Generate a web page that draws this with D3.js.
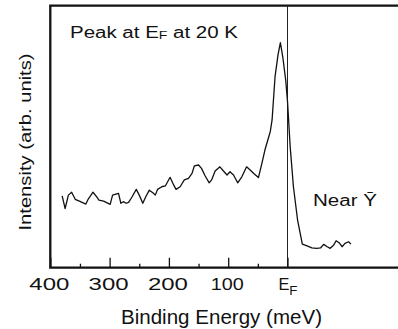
<!DOCTYPE html>
<html>
<head>
<meta charset="utf-8">
<script src="https://cdn.jsdelivr.net/npm/d3@7/dist/d3.min.js"></script>
<style>
  html, body { margin: 0; padding: 0; background: #fff; }
  svg { display: block; }
  text { font-family: "Liberation Sans", Arial, sans-serif; fill: #111; }
</style>
</head>
<body>
<svg id="chart" width="398" height="329"></svg>
<script>
// Photoemission spectrum near Y-bar at 20 K (binding energy in meV, 0 = E_F)
const energy = [380, 375, 369.5, 364, 358, 350, 340, 336, 328, 322, 318, 310, 299, 295, 285, 281, 277, 272, 268, 263,
  255, 250, 244, 239, 233, 226, 223, 219, 212, 206, 198, 192, 188, 181, 174, 167, 161, 157, 150, 145,
  139, 132, 128, 122, 114, 108, 102, 97, 91, 84, 77, 69, 63, 56, 49, 43, 38, 29, 26, 21,
  16, 12, 8, 3, 0, -4.5, -10, -17, -25, -33, -41, -49, -56, -61, -67, -72, -78, -82, -88, -92,
  -97, -103, -107];
const intensity = [27.4, 22.6, 27.7, 28.8, 26.1, 25.3, 24.3, 26.2, 28.8, 27.1, 25.8, 25.4, 24.2, 27.7, 28.4, 24.6, 25.2, 24.6, 24.9, 26.7,
  29.9, 27.7, 24.6, 27.1, 29.6, 28.4, 27.7, 29.9, 30.9, 31.2, 34.5, 31.6, 29.9, 30.9, 33.5, 34.1, 36.0, 38.9, 39.2, 37.9,
  35.1, 32.4, 33.5, 36.9, 38.5, 36.9, 35.4, 36.6, 35.4, 32.4, 34.7, 38.5, 37.3, 35.8, 34.4, 40.0, 45.0, 52.0, 56.4, 72.9,
  81.2, 85.9, 80.5, 71.6, 63.5, 46.2, 30.9, 18.2, 9.0, 8.3, 7.6, 7.4, 7.6, 8.9, 8.0, 7.4, 8.7, 10.3, 9.3, 8.0,
  9.3, 9.9, 9.0];
const majorTicks = [400, 300, 200, 100, 0];
const minorTicks = [350, 250, 150, 50];
const tickLabels = ["400", "300", "200", "100", "E"];

const svg = d3.select("#chart");
const plotLeft = 50.3, plotTop = 5.7, plotBottom = 267.7;

const x = d3.scaleLinear().domain([400, -200]).range([plotLeft, plotLeft + 600 * 0.593]);
const y = d3.scaleLinear().domain([0, 100]).range([plotBottom, plotTop]);

// Frame: left, top and bottom edges (right edge runs past the view)
svg.append("path")
  .attr("d", `M${x(-200)},${plotTop}H${plotLeft}V${plotBottom}H${x(-200)}`)
  .attr("fill", "none").attr("stroke", "#111").attr("stroke-width", 2.3);

// Fermi level marker
svg.append("line")
  .attr("x1", x(0)).attr("x2", x(0)).attr("y1", plotTop).attr("y2", plotBottom)
  .attr("stroke", "#222").attr("stroke-width", 1);

// Major ticks with labels (pointing inward)
const axis = d3.axisBottom(x).tickValues(majorTicks).tickSize(-10).tickPadding(11.4)
  .tickFormat((d, i) => tickLabels[i]);
const gx = svg.append("g").attr("transform", `translate(0,${plotBottom})`).call(axis);
gx.select(".domain").remove();
gx.selectAll(".tick line").attr("stroke", "#111").attr("stroke-width", 1.3);
gx.selectAll(".tick text")
  .attr("font-size", 16).attr("fill", "#111")
  .attr("font-family", "Liberation Sans, Arial, sans-serif")
  .attr("x", -1.5)
  .each(function (d) {
    const t = d3.select(this);
    if (d === 0) {
      t.attr("x", 0);
      t.append("tspan").attr("font-size", 13).attr("dy", 4.3).text("F");
      t.attr("textLength", 19).attr("lengthAdjust", "spacingAndGlyphs");
    } else {
      t.attr("textLength", d === 100 ? 33 : 40).attr("lengthAdjust", "spacingAndGlyphs");
    }
  });

// Minor ticks
const minor = d3.axisBottom(x).tickValues(minorTicks).tickSize(-4).tickFormat("");
const gm = svg.append("g").attr("transform", `translate(0,${plotBottom})`).call(minor);
gm.select(".domain").remove();
gm.selectAll(".tick line").attr("stroke", "#111").attr("stroke-width", 1.3);

// Spectrum
const line = d3.line().x((d, i) => x(energy[i])).y(d => y(d));
svg.append("path")
  .datum(intensity)
  .attr("d", line)
  .attr("fill", "none").attr("stroke", "#111").attr("stroke-width", 1.3)
  .attr("stroke-linejoin", "round");

// Axis titles
svg.append("text")
  .attr("x", 221.5).attr("y", 324).attr("text-anchor", "middle")
  .attr("font-size", 19.5)
  .attr("textLength", 201).attr("lengthAdjust", "spacingAndGlyphs")
  .text("Binding Energy (meV)");

svg.append("text")
  .attr("transform", "translate(31,142) rotate(-90)")
  .attr("text-anchor", "middle")
  .attr("font-size", 17)
  .attr("textLength", 177).attr("lengthAdjust", "spacingAndGlyphs")
  .text("Intensity (arb. units)");

// Annotations
const peak = svg.append("text")
  .attr("x", 70).attr("y", 37.5).attr("font-size", 16)
  .attr("textLength", 168).attr("lengthAdjust", "spacingAndGlyphs");
peak.append("tspan").text("Peak at E");
peak.append("tspan").attr("font-size", 11).attr("dy", 1.5).text("F");
peak.append("tspan").attr("dy", -1.5).text(" at 20 K");

svg.append("text")
  .attr("x", 313).attr("y", 205.5).attr("font-size", 16)
  .attr("textLength", 64).attr("lengthAdjust", "spacingAndGlyphs")
  .text("Near  \u0232");
</script>
</body>
</html>
